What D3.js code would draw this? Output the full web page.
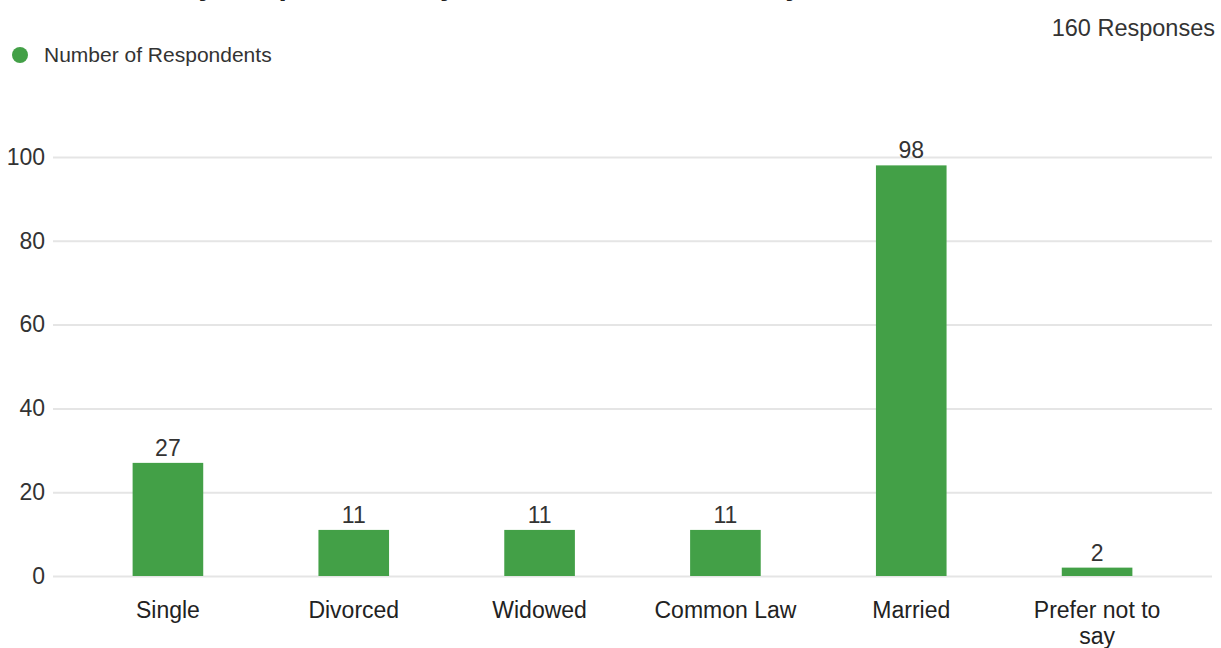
<!DOCTYPE html>
<html>
<head>
<meta charset="utf-8">
<script src="https://cdn.jsdelivr.net/npm/d3@7"></script>
<style>
  body { margin: 0; background: #fff; }
  svg { font-family: "Liberation Sans", Arial, sans-serif; }
</style>
</head>
<body>
<div id="main"></div>
<script>
// data
const categories = ["Single", "Divorced", "Widowed", "Common Law", "Married", "Prefer not to say"];
const respondents = [27, 11, 11, 11, 98, 2];
const yTicks = [0, 20, 40, 60, 80, 100];
const seriesName = "Number of Respondents";
const totalLabel = "160 Responses";
const titleText = "Marital Survey Respondents by Marital Status of Family";

const width = 1221;
const height = 648;
const green = "#43a047";

const svg = d3.select("#main")
  .append("svg")
  .attr("width", width)
  .attr("height", height);

// title, cut off at the top edge in the reference
svg.append("text")
  .attr("x", 10)
  .attr("y", -5)
  .attr("font-size", 30)
  .attr("font-weight", "bold")
  .attr("fill", "#212121")
  .text(titleText);

// legend
svg.append("circle")
  .attr("cx", 20)
  .attr("cy", 55)
  .attr("r", 8)
  .attr("fill", green);
svg.append("text")
  .attr("x", 44)
  .attr("y", 62)
  .attr("font-size", 21)
  .attr("fill", "#333")
  .text(seriesName);

svg.append("text")
  .attr("x", 1215)
  .attr("y", 36)
  .attr("text-anchor", "end")
  .attr("font-size", 23.5)
  .attr("fill", "#333")
  .text(totalLabel);

// scales
const xScale = d3.scaleBand()
  .domain(categories)
  .range([75, 1190])
  .paddingInner(0.62)
  .paddingOuter(0.31);

const yScale = d3.scaleLinear()
  .domain([0, 100])
  .range([576, 157]);

// grid + y labels
const yAxis = d3.axisLeft(yScale)
  .tickValues(yTicks)
  .tickSize(-(1212 - 53))
  .tickPadding(8);

svg.append("g")
  .attr("transform", "translate(53,0)")
  .call(yAxis)
  .call(g => g.select(".domain").remove())
  .call(g => g.selectAll(".tick line").attr("stroke", "#e5e5e5").attr("stroke-width", 2))
  .call(g => g.selectAll(".tick text")
    .attr("font-size", 23)
    .attr("fill", "#333")
    .attr("font-family", "Liberation Sans, Arial, sans-serif"));

// bars
svg.append("g")
  .selectAll("rect")
  .data(respondents)
  .enter()
  .append("rect")
  .attr("x", (d, i) => xScale(categories[i]))
  .attr("y", d => yScale(d))
  .attr("width", xScale.bandwidth())
  .attr("height", d => yScale(0) - yScale(d))
  .attr("fill", green);

// value labels
svg.append("g")
  .selectAll("text")
  .data(respondents)
  .enter()
  .append("text")
  .attr("x", (d, i) => xScale(categories[i]) + xScale.bandwidth() / 2)
  .attr("y", d => yScale(d) - 7)
  .attr("text-anchor", "middle")
  .attr("font-size", 23)
  .attr("fill", "#333")
  .text(d => d);

// x labels, wrapped like the original
const xAxis = d3.axisBottom(xScale).tickSize(0).tickPadding(0);
svg.append("g")
  .attr("transform", "translate(0,576)")
  .call(xAxis)
  .call(g => g.select(".domain").remove())
  .call(g => g.selectAll(".tick text")
    .attr("font-size", 23)
    .attr("fill", "#222")
    .attr("font-family", "Liberation Sans, Arial, sans-serif")
    .attr("y", 0)
    .attr("dy", null)
    .each(function(d) {
      const t = d3.select(this);
      const lines = d === "Prefer not to say" ? ["Prefer not to", "say"] : [d];
      t.text(null);
      lines.forEach((line, i) => {
        t.append("tspan")
          .attr("x", 0)
          .attr("y", 42 + i * 26)
          .text(line);
      });
    }));
</script>
</body>
</html>
